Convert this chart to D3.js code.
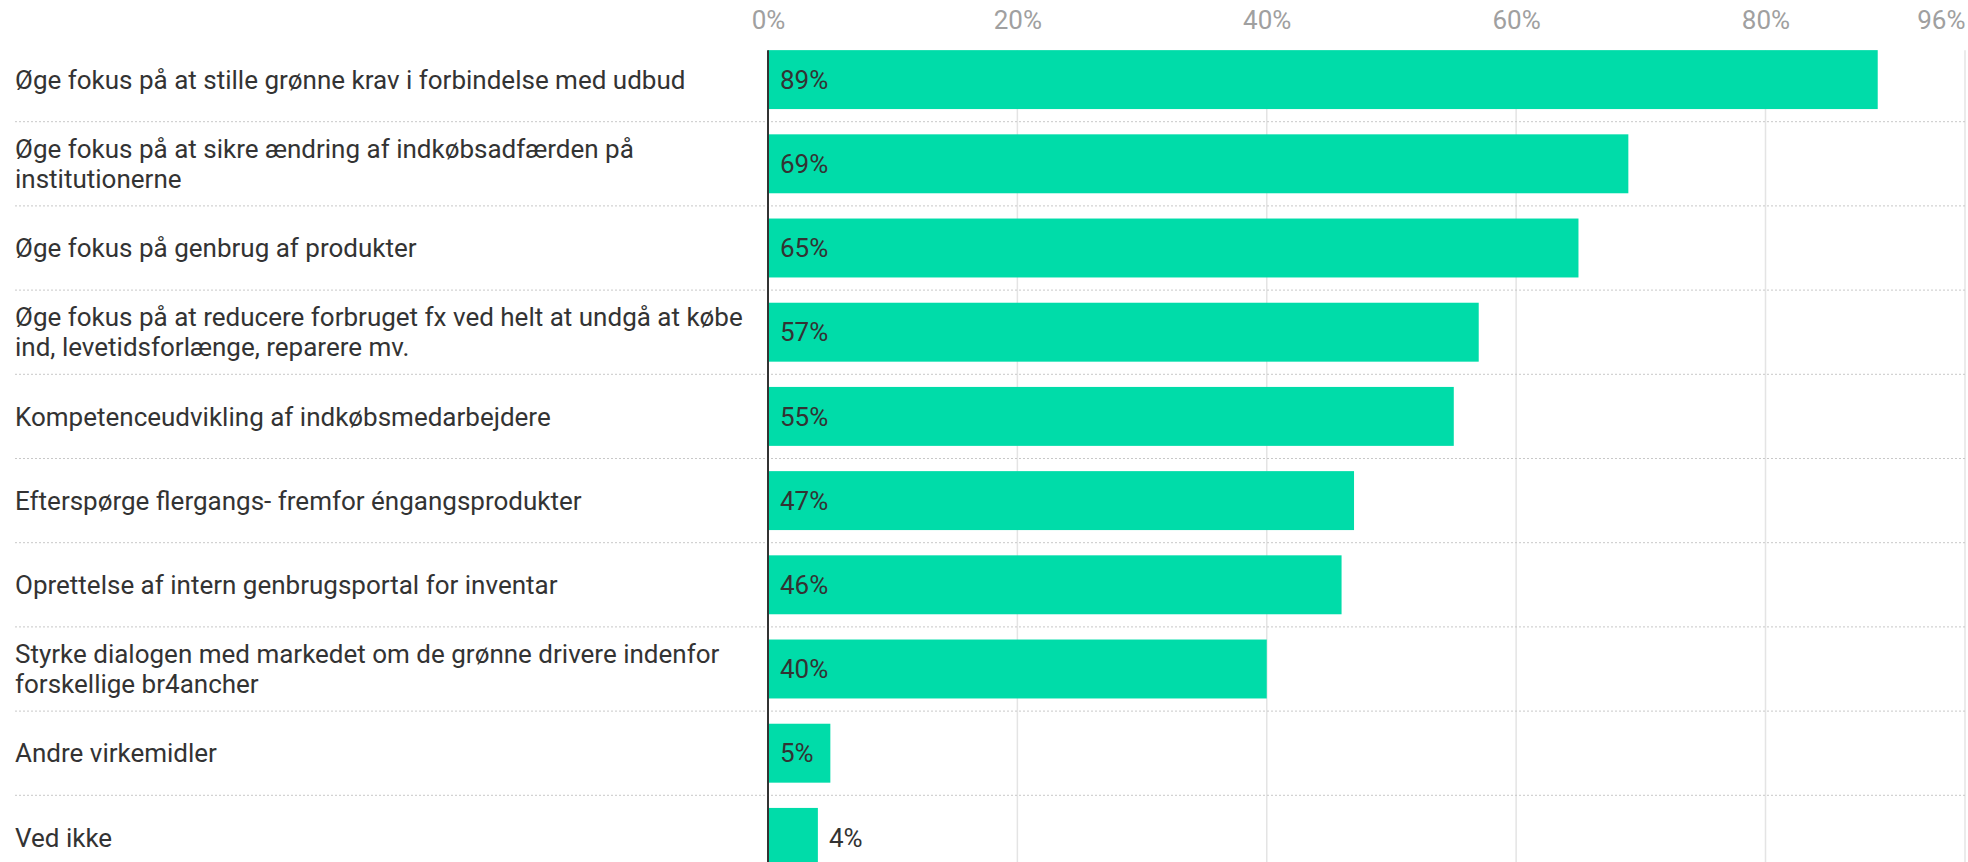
<!DOCTYPE html>
<html lang="da">
	<head>
		<meta charset="utf-8">
		<title>virkemidler bar</title>
		<script type="text/javascript" src="https://cdn.jsdelivr.net/npm/d3@7"></script>
		<style type="text/css">
			body { margin: 0; background: #fff; }
			text { font-family: Roboto, "Noto Sans", sans-serif; }
		</style>
	</head>

	<body>
        <script type="text/javascript">

        // data
        var categories = [
            "Øge fokus på at stille grønne krav i forbindelse med udbud",
            "Øge fokus på at sikre ændring af indkøbsadfærden på institutionerne",
            "Øge fokus på genbrug af produkter",
            "Øge fokus på at reducere forbruget fx ved helt at undgå at købe ind, levetidsforlænge, reparere mv.",
            "Kompetenceudvikling af indkøbsmedarbejdere",
            "Efterspørge flergangs- fremfor éngangsprodukter",
            "Oprettelse af intern genbrugsportal for inventar",
            "Styrke dialogen med markedet om de grønne drivere indenfor forskellige br4ancher",
            "Andre virkemidler",
            "Ved ikke"
        ];
        var values = [89, 69, 65, 57, 55, 47, 46, 40, 5, 4];
        var tickValues = [0, 20, 40, 60, 80, 96];

        var w = 1968;
        var h = 862;
        var x0 = 768;
        var xMax = 1965;
        var yTop = 37.5;
        var step = 84.2;
        var labelX = 15;
        var wrapWidth = 760;
        var fontSize = 26;

        var barColor = "#00dca9";

        var xScale = d3.scaleLinear()
            .domain([0, 96])
            .range([x0, xMax]);

        var yScale = d3.scaleBand()
            .domain(categories)
            .range([yTop, yTop + step * categories.length])
            .paddingInner(0.3)
            .paddingOuter(0.15);

        var svg = d3.select("body")
            .append("svg")
            .attr("width", w)
            .attr("height", h);

        // vertical gridlines
        svg.selectAll("line.grid")
            .data(tickValues.slice(1))
            .enter()
            .append("line")
            .attr("class", "grid")
            .attr("x1", function(d){ return xScale(d); })
            .attr("x2", function(d){ return xScale(d); })
            .attr("y1", yScale(categories[0]))
            .attr("y2", h)
            .attr("stroke", "#e4e4e4")
            .attr("stroke-width", 1.5);

        // dotted row separators
        svg.selectAll("line.sep")
            .data(categories.slice(1))
            .enter()
            .append("line")
            .attr("class", "sep")
            .attr("x1", labelX)
            .attr("x2", xMax)
            .attr("y1", function(d){ return yScale(d) - yScale.step() * yScale.paddingInner() / 2; })
            .attr("y2", function(d){ return yScale(d) - yScale.step() * yScale.paddingInner() / 2; })
            .attr("stroke", "#c8c8c8")
            .attr("stroke-width", 1)
            .attr("stroke-dasharray", "2,2");

        // top axis
        var xAxis = d3.axisTop(xScale)
            .tickValues(tickValues)
            .tickSize(0)
            .tickFormat(function(d){ return d + "%"; });

        var axisG = svg.append("g")
            .attr("transform", "translate(0,32)")
            .call(xAxis);
        axisG.attr("font-family", null).attr("font-size", null);
        axisG.select(".domain").remove();
        axisG.selectAll("text")
            .attr("font-size", fontSize)
            .attr("fill", "#a0a0a0")
            .attr("dy", 0)
            .attr("text-anchor", function(d){ return d === 96 ? "end" : "middle"; });

        // bars
        svg.selectAll("rect.bar")
            .data(values)
            .enter()
            .append("rect")
            .attr("class", "bar")
            .attr("x", x0)
            .attr("y", function(d, i){ return yScale(categories[i]); })
            .attr("width", function(d){ return xScale(d) - x0; })
            .attr("height", yScale.bandwidth())
            .attr("fill", barColor);

        // zero line
        svg.append("line")
            .attr("x1", x0)
            .attr("x2", x0)
            .attr("y1", yScale(categories[0]))
            .attr("y2", h)
            .attr("stroke", "#333")
            .attr("stroke-width", 2);

        // value labels
        svg.selectAll("text.val")
            .data(values)
            .enter()
            .append("text")
            .attr("class", "val")
            .text(function(d){ return d + "%"; })
            .attr("font-size", fontSize)
            .attr("fill", "#333")
            .attr("y", function(d, i){ return yScale(categories[i]) + yScale.bandwidth() / 2; })
            .attr("dy", "0.35em")
            .attr("x", function(d){
                var tw = this.getComputedTextLength();
                var bw = xScale(d) - x0;
                return (tw + 22 <= bw) ? x0 + 12 : xScale(d) + 11;
            });

        // category labels, wrapped
        svg.selectAll("text.cat")
            .data(categories)
            .enter()
            .append("text")
            .attr("class", "cat")
            .attr("font-size", fontSize)
            .attr("fill", "#333")
            .attr("x", labelX)
            .each(function(d){
                var t = d3.select(this);
                var words = d.split(" ");
                var lines = [];
                var line = [];
                var probe = t.append("tspan");
                words.forEach(function(wd){
                    line.push(wd);
                    probe.text(line.join(" "));
                    if (probe.node().getComputedTextLength() > wrapWidth && line.length > 1) {
                        line.pop();
                        lines.push(line.join(" "));
                        line = [wd];
                    }
                });
                lines.push(line.join(" "));
                probe.remove();
                var lh = 30;
                var cy = yScale(d) + yScale.bandwidth() / 2;
                var startY = cy - (lines.length - 1) * lh / 2;
                lines.forEach(function(l, j){
                    t.append("tspan")
                        .attr("x", labelX)
                        .attr("y", startY + j * lh)
                        .attr("dy", "0.35em")
                        .text(l);
                });
            });

        </script>
	</body>
</html>
